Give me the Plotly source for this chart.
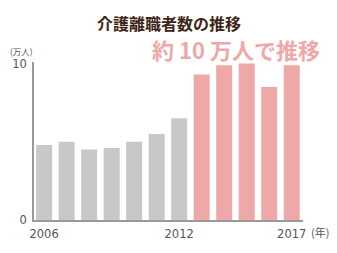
import plotly.graph_objects as go

years = ["2006", "2007", "2008", "2009", "2010", "2011", "2012",
         "2013", "2014", "2015", "2016", "2017"]
values = [4.8, 5.0, 4.5, 4.6, 5.0, 5.5, 6.5, 9.3, 9.9, 10.0, 8.5, 9.9]
colors = ["#c8c8c8"] * 7 + ["#eea8a8"] * 5
tick_idx = [0, 6, 11]
tick_labels = ["2006", "2012", "2017"]

x = list(range(len(years)))

fig = go.Figure(go.Bar(x=x, y=values, marker_color=colors, marker_line_width=0,
                       width=0.71, hoverinfo="skip"))

fig.update_layout(
    width=337, height=253,
    margin=dict(l=34, r=34, t=62, b=29),
    paper_bgcolor="white", plot_bgcolor="white",
    showlegend=False,
    font=dict(family="DejaVu Sans", color="#555555"),
    xaxis=dict(range=[-0.45, 11.5], tickvals=tick_idx, ticktext=tick_labels,
               showgrid=False, zeroline=False, showline=True, linecolor="#999999",
               linewidth=1.5, ticks="outside", ticklen=2, tickcolor="rgba(0,0,0,0)",
               tickfont=dict(size=11.5, color="#555555"),
               fixedrange=True),
    yaxis=dict(range=[0, 10.1], tickvals=[0, 10], ticktext=["0", "10"],
               showgrid=False, zeroline=False, showline=True, linecolor="#999999",
               linewidth=1.5, ticks="outside", ticklen=3, tickcolor="rgba(0,0,0,0)",
               tickfont=dict(size=11.5, color="#555555"), fixedrange=True),
    annotations=[
        dict(text="<b>介護離職者数の推移</b>", x=169, y=22, xref="paper", yref="paper",
             showarrow=False, font=dict(family="Noto Sans CJK JP", size=16, color="#3d2616")),
        dict(text="<b>約 10 万人で推移</b>", x=236, y=49, showarrow=False,
             font=dict(family="Noto Sans CJK JP", size=22, color="#eea8a8")),
        dict(text="(万人)", x=21, y=51, showarrow=False,
             font=dict(family="Noto Sans CJK JP", size=8.5, color="#555555")),
        dict(text="(年)", x=320, y=236, showarrow=False,
             font=dict(family="Noto Sans CJK JP", size=11, color="#555555")),
    ],
)

# convert pixel positions of annotations into paper coordinates
W, H = 337, 253
l, r, t, b = 34, 34, 62, 29
pw, ph = W - l - r, H - t - b
for a in fig.layout.annotations:
    px, py = a.x, a.y
    a.x = (px - l) / pw
    a.y = 1 - (py - t) / ph
    a.xref = "paper"
    a.yref = "paper"
    a.xanchor = "center"
    a.yanchor = "middle"

fig.write_html("out.html", config={"displayModeBar": False})
